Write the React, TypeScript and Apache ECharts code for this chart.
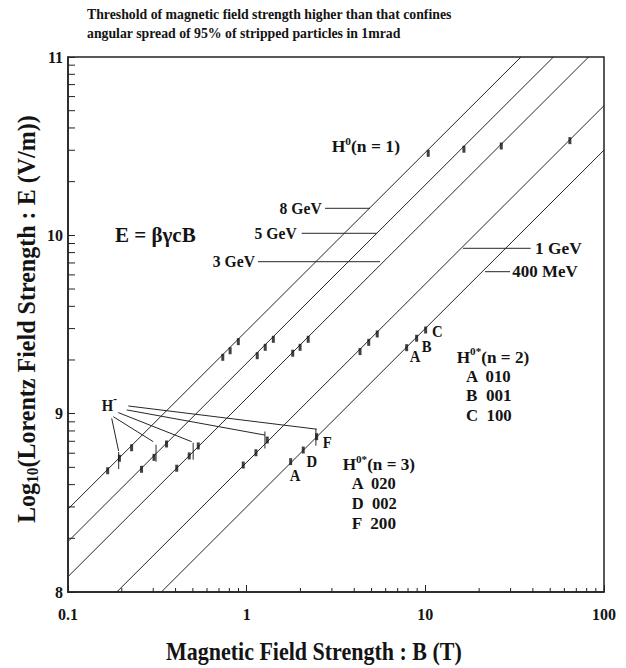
import React, { useEffect, useRef } from "react";
import * as echarts from "echarts";

const FONT = '"Liberation Serif", "Times New Roman", serif';
const INK = "#141414";
const LINE = "#262626";

// axis tick labels
const xTickLabels = ["0.1", "1", "10", "100"];
const yTickLabels = ["8", "9", "10", "11"];

// E = beta*gamma*c*B lines (B in T, log10 E), read at plot edges
const energyNames = ["8 GeV", "5 GeV", "3 GeV", "1 GeV", "400 MeV"];
const lineStarts = [[0.1, 8.465], [0.1, 8.283], [0.1, 8.086], [0.1875, 8], [0.333, 8]];
const lineEnds = [[34.3, 11], [52.1, 11], [82.0, 11], [100, 10.727], [100, 10.478]];

// H0 (n = 1) thresholds
const h0Marks = [[10.38, 10.46], [16.44, 10.483], [26.6, 10.501], [64.4, 10.531]];

// H0* (n = 2) group + similar groups on each line
const upperMarks = [
  [0.735, 9.316], [0.808, 9.353], [0.898, 9.404],
  [1.146, 9.325], [1.27, 9.372], [1.41, 9.417],
  [1.81, 9.339], [1.99, 9.372], [2.21, 9.417],
  [4.31, 9.348], [4.82, 9.4], [5.38, 9.447],
  [7.86, 9.37], [8.94, 9.423], [10.04, 9.469],
];

// H0* (n = 3) group + similar groups on each line
const lowerMarks = [
  [0.1667, 8.68], [0.194, 8.75], [0.227, 8.809],
  [0.258, 8.688], [0.303, 8.755], [0.356, 8.83],
  [0.406, 8.694], [0.477, 8.763], [0.536, 8.819],
  [0.957, 8.712], [1.127, 8.781], [1.304, 8.852],
  [1.763, 8.731], [2.073, 8.796], [2.465, 8.871],
];

// H- thresholds (long thin bars) and leader lines from the H- label
const hMinusBars = [[0.192, 8.738], [0.311, 8.778], [0.502, 8.789], [1.265, 8.852], [2.44, 8.868]];
const hMinusFrom = [[0.1756, 8.974], [0.1793, 8.983], [0.1912, 9.006], [0.2131, 9.021], [0.2176, 9.043]];
const hMinusTo = [[0.192, 8.79], [0.3, 8.843], [0.492, 8.843], [1.265, 8.88], [2.466, 8.913]];

const n2Labels = ["A  010", "B  001", "C  100"];
const n3Labels = ["A  020", "D  002", "F  200"];
const titleLines = [
  "Threshold of magnetic field strength higher than that confines",
  "angular spread of 95% of stripped particles in 1mrad",
];

type Part = { t: string; s: number; dy?: number };

export default function App() {
  const ref = useRef<HTMLDivElement>(null);

  useEffect(() => {
    if (!ref.current) return;
    const chart = echarts.init(ref.current, undefined, { renderer: "svg" });
    const ctx = document.createElement("canvas").getContext("2d")!;
    const measure = (t: string, s: number) => {
      ctx.font = `bold ${s}px ${FONT}`;
      return ctx.measureText(t).width;
    };
    const widthOf = (parts: Part[]) => parts.reduce((a, p) => a + measure(p.t, p.s), 0);
    const run = (
      parts: Part[],
      o: { x: number; y: number; align?: string; rotation?: number; target?: number; scale?: number }
    ) => {
      const widths = parts.map((p) => measure(p.t, p.s));
      const W = widths.reduce((a, b) => a + b, 0);
      const sx = o.target ? o.target / W : o.scale || 1;
      let cur = o.align === "center" ? -W / 2 : o.align === "right" ? -W : 0;
      const children = parts.map((p, i) => {
        const c = {
          type: "text",
          x: cur,
          y: p.dy || 0,
          style: {
            text: p.t,
            fontSize: p.s,
            fontFamily: FONT,
            fontWeight: "bold",
            fill: INK,
            align: "left",
            verticalAlign: "middle",
            textAlign: "left",
            textVerticalAlign: "middle",
          },
        };
        cur += widths[i];
        return c;
      });
      return { type: "group", x: o.x, y: o.y, rotation: o.rotation || 0, scaleX: sx, silent: true, children };
    };

    const titleScale = 365 / widthOf([{ t: titleLines[0], s: 15.5 }]);
    const hline = (x1: number, x2: number, y: number) => ({
      type: "line",
      silent: true,
      shape: { x1, y1: y, x2, y2: y },
      style: { stroke: LINE, lineWidth: 1 },
    });

    const graphic: any[] = [
      run([{ t: titleLines[0], s: 15.5 }], { x: 87, y: 14, scale: titleScale }),
      run([{ t: titleLines[1], s: 15.5 }], { x: 87, y: 33, scale: titleScale }),
      run([{ t: "Magnetic Field Strength : B (T)", s: 25 }], { x: 314, y: 652, align: "center", target: 296 }),
      run(
        [
          { t: "Log", s: 25 },
          { t: "10", s: 16, dy: 6 },
          { t: "(Lorentz Field Strength : E (V/m))", s: 25 },
        ],
        { x: 26, y: 319, align: "center", rotation: Math.PI / 2, target: 408 }
      ),
      run([{ t: "E = βγcB", s: 21 }], { x: 115, y: 235 }),
      // energy labels
      run([{ t: energyNames[0], s: 17 }], { x: 321.7, y: 208.3, align: "right", scale: 0.92 }),
      hline(325, 370, 208.3),
      run([{ t: energyNames[1], s: 17 }], { x: 296.7, y: 233.3, align: "right", scale: 0.92 }),
      hline(301.7, 377, 233.3),
      run([{ t: energyNames[2], s: 17 }], { x: 255, y: 261.7, align: "right", scale: 0.92 }),
      hline(258, 380, 261.7),
      run([{ t: energyNames[3], s: 17 }], { x: 535, y: 248.3, target: 46.7 }),
      hline(463, 530.7, 248.3),
      run([{ t: energyNames[4], s: 17 }], { x: 512.3, y: 271.7, target: 65.4 }),
      hline(485, 510, 271.7),
      // species labels
      run(
        [
          { t: "H", s: 17 },
          { t: "0", s: 11, dy: -6 },
          { t: "(n = 1)", s: 17 },
        ],
        { x: 331.7, y: 146.7, target: 68.3 }
      ),
      run(
        [
          { t: "H", s: 17 },
          { t: "0*", s: 11, dy: -6 },
          { t: "(n = 2)", s: 17 },
        ],
        { x: 456.7, y: 357.3, target: 72.6 }
      ),
      ...n2Labels.map((t, i) => run([{ t, s: 17 }], { x: 466, y: 376.7 + i * 19.2, target: 45.7 })),
      run(
        [
          { t: "H", s: 17 },
          { t: "0*", s: 11, dy: -6 },
          { t: "(n = 3)", s: 17 },
        ],
        { x: 342.7, y: 465, target: 72.3 }
      ),
      ...n3Labels.map((t, i) => run([{ t, s: 17 }], { x: 351.7, y: 483.3 + i * 20, target: 45 })),
      run(
        [
          { t: "H", s: 16 },
          { t: "-", s: 12, dy: -6 },
        ],
        { x: 101.7, y: 405, scale: 0.92 }
      ),
      // point labels
      run([{ t: "A", s: 16 }], { x: 415, y: 356, align: "center", scale: 0.92 }),
      run([{ t: "B", s: 16 }], { x: 426.7, y: 346, align: "center", scale: 0.92 }),
      run([{ t: "C", s: 16 }], { x: 437.3, y: 331.7, align: "center", scale: 0.92 }),
      run([{ t: "A", s: 16 }], { x: 295, y: 475, align: "center", scale: 0.92 }),
      run([{ t: "D", s: 16 }], { x: 311.7, y: 461, align: "center", scale: 0.92 }),
      run([{ t: "F", s: 16 }], { x: 327.3, y: 442.7, align: "center", scale: 0.92 }),
    ];

    // minor ticks: [x, y, kind]; kind 0 = on x axis, 1 = on y axis
    const minorTicks: number[][] = [];
    [0.1, 1, 10].forEach((d) => {
      for (let k = 2; k <= 9; k++) minorTicks.push([k * d, 8, 0]);
    });
    [8, 9, 10].forEach((d) => {
      for (let k = 2; k <= 9; k++) minorTicks.push([0.1, d + Math.log10(k), 1]);
    });

    const axisFont = { fontFamily: FONT, fontWeight: "bold", fontSize: 16, color: INK };

    const series: any[] = [
      ...energyNames.map((n, i) => ({
        type: "line",
        name: n,
        data: [lineStarts[i], lineEnds[i]],
        symbol: "none",
        showSymbol: false,
        silent: true,
        lineStyle: { color: LINE, width: 1 },
        z: 2,
      })),
      ...hMinusFrom.map((p, i) => ({
        type: "line",
        data: [p, hMinusTo[i]],
        symbol: "none",
        showSymbol: false,
        silent: true,
        lineStyle: { color: LINE, width: 1 },
        z: 2,
      })),
      {
        type: "scatter",
        data: [...h0Marks, ...upperMarks, ...lowerMarks],
        symbol: "rect",
        symbolSize: [3, 7],
        itemStyle: { color: "#111" },
        silent: true,
        z: 4,
      },
      {
        type: "scatter",
        data: hMinusBars,
        symbol: "rect",
        symbolSize: [1.2, 17],
        itemStyle: { color: "#222" },
        silent: true,
        z: 3,
      },
      {
        type: "custom",
        data: minorTicks,
        clip: false,
        silent: true,
        renderItem: (params: any, api: any) => {
          const p = api.coord([api.value(0), api.value(1)]);
          const kind = api.value(2);
          return {
            type: "line",
            shape: kind === 0
              ? { x1: p[0], y1: p[1], x2: p[0], y2: p[1] - 4 }
              : { x1: p[0], y1: p[1], x2: p[0] + 7, y2: p[1] },
            style: { stroke: "#222", lineWidth: 1 },
          };
        },
        z: 5,
      },
    ];

    chart.setOption({
      animation: false,
      grid: {
        left: 68,
        right: 22,
        top: 57,
        bottom: 76,
        show: true,
        borderColor: "#222",
        borderWidth: 1.5,
      },
      xAxis: {
        type: "log",
        logBase: 10,
        min: 0.1,
        max: 100,
        axisLine: { lineStyle: { color: "#222", width: 1.5 } },
        axisTick: { inside: true, length: 7, lineStyle: { color: "#222" } },
        axisLabel: {
          ...axisFont,
          margin: 14,
          formatter: (v: number) => xTickLabels[Math.round(Math.log10(v)) + 1] ?? "",
        },
        splitLine: { show: false },
      },
      yAxis: {
        type: "value",
        min: 8,
        max: 11,
        interval: 1,
        axisLine: { show: true, lineStyle: { color: "#222", width: 1.5 } },
        axisTick: { inside: true, length: 7, lineStyle: { color: "#222" } },
        axisLabel: {
          ...axisFont,
          margin: 5,
          formatter: (v: number) => yTickLabels[Math.round(v) - 8] ?? "",
        },
        splitLine: { show: false },
      },
      series,
      graphic,
    });

    return () => chart.dispose();
  }, []);

  return (
    <div
      ref={ref}
      style={{ position: "absolute", left: 0, top: 0, width: 626, height: 668, background: "#fff" }}
    />
  );
}
